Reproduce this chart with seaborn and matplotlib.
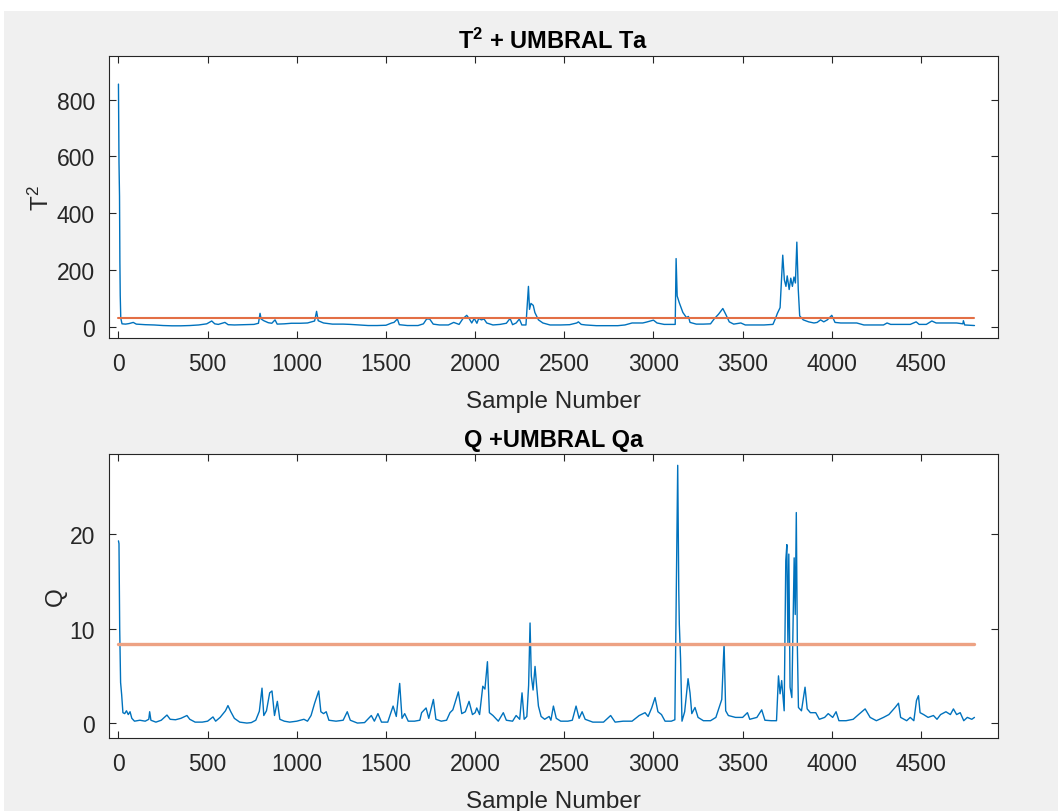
import matplotlib
matplotlib.use("Agg")
import matplotlib.pyplot as plt
from matplotlib.patches import Rectangle
import seaborn as sns
import pandas as pd

# ---------------- data ----------------
t2_samples = [0, 3, 6, 8, 10, 13, 20, 40, 60, 83, 100, 150, 200, 250, 300, 350, 400, 450, 495, 523,
              540, 560, 597, 615, 650, 700, 760, 785, 794, 800, 815, 840, 860, 878, 890, 930, 970,
              1020, 1060, 1100, 1111, 1120, 1150, 1200, 1260, 1300, 1350, 1400, 1450, 1500, 1520,
              1532, 1545, 1564, 1575, 1620, 1680, 1710, 1728, 1745, 1765, 1800, 1850, 1880, 1910,
              1930, 1953, 1966, 1981, 1995, 2010, 2020, 2035, 2050, 2065, 2100, 2140, 2175, 2196,
              2210, 2230, 2248, 2262, 2285, 2299, 2305, 2313, 2326, 2335, 2355, 2380, 2420, 2480,
              2530, 2570, 2579, 2595, 2620, 2680, 2740, 2800, 2840, 2880, 2940, 2960, 3000, 3020,
              3060, 3110, 3122, 3127, 3133, 3145, 3165, 3185, 3196, 3205, 3240, 3280, 3320, 3340,
              3365, 3389, 3405, 3425, 3450, 3490, 3515, 3560, 3620, 3670, 3683, 3695, 3710, 3725,
              3734, 3743, 3750, 3761, 3770, 3779, 3788, 3796, 3804, 3812, 3820, 3840, 3870, 3900,
              3918, 3937, 3955, 3975, 4000, 4018, 4050, 4100, 4140, 4180, 4240, 4290, 4310, 4330,
              4380, 4440, 4473, 4490, 4530, 4561, 4585, 4640, 4700, 4735, 4738, 4745, 4800]
t2_values = [855, 580, 460, 230, 110, 30, 10, 9, 11, 15, 9, 7, 6, 4, 3, 3, 4, 6, 10, 20,
             10, 8, 15, 7, 6, 7, 8, 12, 47, 27, 21, 14, 12, 24, 9, 10, 12,
             12, 13, 20, 54, 21, 13, 9, 9, 8, 6, 4, 4, 5, 10,
             13, 15, 27, 7, 4, 4, 10, 27, 27, 9, 6, 6, 15, 8,
             27, 40, 29, 13, 29, 12, 29, 24, 27, 13, 6, 8, 12, 29,
             7, 13, 27, 6, 6, 142, 61, 82, 75, 50, 24, 13, 6, 6,
             7, 13, 17, 8, 6, 3.5, 3.5, 3.5, 6, 13, 13, 16, 23, 13,
             8, 8, 8, 240, 108, 84, 50, 32, 36, 15, 9, 9, 10, 27,
             44, 64, 44, 17, 9, 13, 6, 6, 6, 8, 27, 47, 67, 252,
             165, 142, 179, 131, 171, 142, 175, 154, 298, 131, 38, 24, 17, 13,
             15, 24, 17, 24, 40, 15, 13, 13, 13, 6, 6, 6, 13, 8,
             8, 8, 17, 8, 8, 20, 13, 13, 13, 10, 21, 6, 4]
t2_limit = 31.5

q_samples = [0, 3, 7, 12, 18, 25, 35, 45, 55, 65, 75, 90, 120, 150, 170, 175, 182, 210, 240, 272,
             290, 320, 350, 384, 400, 430, 470, 500, 530, 545, 570, 600, 614, 630, 650, 680, 720,
             745, 770, 790, 805, 815, 830, 848, 861, 875, 891, 905, 930, 960, 1000, 1040, 1060,
             1080, 1100, 1123, 1135, 1150, 1165, 1180, 1220, 1260, 1283, 1300, 1340, 1380, 1418,
             1435, 1455, 1475, 1510, 1540, 1558, 1577, 1590, 1605, 1625, 1660, 1690, 1700, 1725,
             1740, 1766, 1780, 1810, 1840, 1859, 1875, 1906, 1925, 1945, 1966, 1985, 2000, 2009,
             2025, 2043, 2055, 2069, 2080, 2100, 2130, 2158, 2175, 2210, 2230, 2250, 2263, 2275,
             2290, 2300, 2308, 2315, 2325, 2336, 2345, 2355, 2370, 2390, 2415, 2425, 2439, 2455,
             2480, 2520, 2545, 2566, 2583, 2600, 2617, 2660, 2720, 2760, 2785, 2830, 2880, 2920,
             2953, 2970, 2990, 3009, 3025, 3045, 3065, 3100, 3120, 3130, 3136, 3142, 3145, 3152,
             3160, 3175, 3194, 3205, 3215, 3233, 3250, 3280, 3320, 3350, 3383, 3396, 3405, 3420,
             3460, 3500, 3527, 3540, 3580, 3607, 3625, 3660, 3690, 3701, 3710, 3719, 3733, 3742,
             3748, 3754, 3759, 3766, 3776, 3789, 3795, 3801, 3807, 3813, 3830, 3850, 3862, 3880,
             3910, 3930, 3960, 3980, 4005, 4024, 4040, 4080, 4120, 4150, 4187, 4215, 4250, 4290,
             4320, 4355, 4374, 4386, 4420, 4440, 4460, 4475, 4486, 4495, 4515, 4540, 4570, 4590,
             4610, 4640, 4665, 4682, 4700, 4720, 4740, 4760, 4785, 4800]
q_values = [19.3, 19.0, 10, 4.3, 3.0, 1.1, 1.0, 1.3, 0.9, 1.2, 0.5, 0.2, 0.3, 0.2, 0.4, 1.2, 0.3, 0.1, 0.3, 0.85,
            0.4, 0.35, 0.5, 0.8, 0.4, 0.1, 0.1, 0.2, 0.65, 0.2, 0.6, 1.3, 1.85, 1.2, 0.5, 0.1, 0.0,
            0.05, 0.3, 1.25, 3.7, 0.8, 1.3, 3.2, 3.4, 0.8, 2.3, 0.4, 0.2, 0.1, 0.2, 0.4, 0.2,
            0.8, 2.1, 3.4, 1.2, 1.0, 1.2, 0.3, 0.2, 0.3, 1.2, 0.3, 0.0, 0.05, 0.8,
            0.2, 1.0, 0.1, 0.1, 1.8, 0.7, 4.2, 0.5, 1.0, 0.2, 0.2, 0.3, 1.1, 1.6,
            0.5, 2.5, 0.4, 0.2, 0.3, 1.1, 1.4, 3.3, 1.0, 1.2, 2.3, 0.9, 1.1, 1.6,
            0.9, 3.9, 3.6, 6.5, 1.1, 0.8, 0.2, 1.1, 0.3, 0.2, 0.8, 0.4, 3.2, 0.4,
            0.7, 4.0, 10.6, 5.0, 3.5, 6.0, 3.9, 1.8, 0.7, 0.4, 0.7, 0.3, 1.8, 0.5,
            0.2, 0.2, 0.3, 1.8, 0.5, 1.2, 0.4, 0.1, 0.1, 0.8, 0.1, 0.2, 0.2, 0.8,
            1.1, 0.7, 1.6, 2.7, 1.2, 0.9, 0.2, 0.2, 0.35, 17, 27.3, 14, 10.5, 6.8,
            0.2, 1.2, 4.7, 3.2, 1.0, 1.65, 0.6, 0.25, 0.25, 0.6, 2.5, 8.4, 1.3, 0.8,
            0.6, 0.6, 1.1, 0.4, 0.6, 1.4, 0.3, 0.25, 0.25, 5.0, 3.1, 4.5, 1.3, 17.2,
            18.9, 8.4, 17.9, 3.8, 2.7, 17.5, 11.5, 22.3, 8.0, 1.65, 1.3, 3.8, 1.5, 1.1,
            1.1, 0.4, 0.6, 1.0, 0.6, 1.2, 0.25, 0.25, 0.4, 0.9, 1.5, 0.6, 0.25, 0.6,
            0.9, 1.65, 2.1, 0.6, 0.25, 0.6, 0.25, 2.4, 2.9, 1.1, 0.9, 0.6, 0.8, 0.4,
            0.9, 1.2, 0.9, 1.5, 0.9, 1.1, 0.25, 0.6, 0.4, 0.6]
q_limit = 8.4

limit_span = [0, 4800]
x_ticks = [0, 500, 1000, 1500, 2000, 2500, 3000, 3500, 4000, 4500]
t2_ticks = [0, 200, 400, 600, 800]
q_ticks = [0, 10, 20]

# ---------------- style ----------------
sns.set_style("ticks")
plt.rcParams["font.family"] = ["Liberation Sans", "DejaVu Sans"]
plt.rcParams["mathtext.fontset"] = "custom"
plt.rcParams["mathtext.rm"] = "Liberation Sans"
plt.rcParams["mathtext.it"] = "Liberation Sans"
plt.rcParams["mathtext.bf"] = "Liberation Sans:bold"

TXT = "#262626"
BLUE = "#0072BD"

fig = plt.figure(figsize=(10.58, 8.12), dpi=100)
fig.patch.set_facecolor("#F0F0F0")
fig.patches.append(Rectangle((0, 1 - 12 / 812), 1, 12 / 812, transform=fig.transFigure,
                             facecolor="white", edgecolor="none", zorder=0))
fig.patches.append(Rectangle((0, 0), 4 / 1058, 1, transform=fig.transFigure,
                             facecolor="white", edgecolor="none", zorder=0))

ax1 = fig.add_axes([109 / 1058, 1 - 339.3 / 812, 889 / 1058, 282 / 812])
ax2 = fig.add_axes([109 / 1058, 1 - 738.7 / 812, 889 / 1058, 283.7 / 812])

df_t2 = pd.DataFrame({"Sample Number": t2_samples, "T2": t2_values})
df_q = pd.DataFrame({"Sample Number": q_samples, "Q": q_values})

sns.lineplot(data=df_t2, x="Sample Number", y="T2", ax=ax1, color=BLUE, linewidth=1.0)
sns.lineplot(x=limit_span, y=[t2_limit, t2_limit], ax=ax1, color="#E36F45", linewidth=1.5)
sns.lineplot(data=df_q, x="Sample Number", y="Q", ax=ax2, color=BLUE, linewidth=1.0)
sns.lineplot(x=limit_span, y=[q_limit, q_limit], ax=ax2, color="#EDA283", linewidth=2.4)

for ax, ylim, yt in [(ax1, (-41, 953), t2_ticks), (ax2, (-1.55, 28.5), q_ticks)]:
    ax.set_facecolor("white")
    ax.set_xlim(-53, 4932)
    ax.set_ylim(*ylim)
    ax.set_xticks(x_ticks)
    ax.set_yticks(yt)
    ax.tick_params(direction="in", length=5, width=0.8, top=True, right=True,
                   labelsize=16.5, colors=TXT, pad=10)
    for s in ax.spines.values():
        s.set_visible(True)
        s.set_color(TXT)
        s.set_linewidth(0.8)
    ax.set_xlabel("Sample Number", fontsize=17.5, color=TXT, labelpad=11)

ax1.set_ylabel(r"T$^2$", fontsize=17.5, color=TXT, labelpad=2)
ax2.set_ylabel("Q", fontsize=17.5, color=TXT, labelpad=2)
ax1.set_title(r"$\mathbf{T^2}$ + UMBRAL Ta", fontsize=17, fontweight="bold", color="black", pad=6)
ax2.set_title("Q +UMBRAL Qa", fontsize=17, fontweight="bold", color="black", pad=6)

fig.savefig("out.png", dpi=100, facecolor=fig.get_facecolor())
